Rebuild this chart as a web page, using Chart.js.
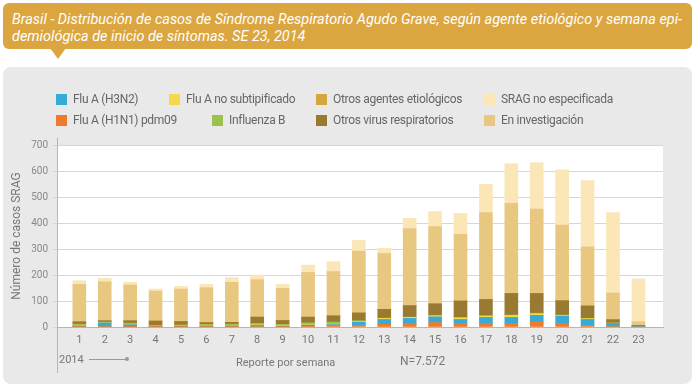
<!DOCTYPE html>
<html><head><meta charset="utf-8">
<script src="https://cdn.jsdelivr.net/npm/chart.js@4/dist/chart.umd.min.js"></script>
<style>
html,body{margin:0;padding:0;background:#fff;width:695px;height:387px;overflow:hidden;font-family:Roboto,"Open Sans",sans-serif;}
#banner{position:absolute;left:3px;top:3px;width:689px;height:46px;background:#dba540;border-radius:6px;}
#pointer{position:absolute;left:50px;top:48px;width:0;height:0;border-left:8px solid transparent;border-right:8px solid transparent;border-top:11px solid #dba540;}
.tl{position:absolute;left:12px;color:#fff;font-style:italic;font-size:14px;white-space:nowrap;transform-origin:0 0;}
#panel{position:absolute;left:3px;top:67px;width:689px;height:317px;background:#e9e9e9;border-radius:8px;}
#chart{position:absolute;left:0;top:0;}
.lg{position:absolute;font-size:12px;color:#666;white-space:nowrap;letter-spacing:-0.3px;}
.lg i{position:absolute;width:11px;height:11px;left:-17px;top:2px;}
.ft{position:absolute;color:#777;font-size:11px;white-space:nowrap;}
</style></head>
<body>
<div id="banner"></div><div id="pointer"></div>
<div class="tl" id="t1" style="top:11px">Brasil - Distribución de casos de Síndrome Respiratorio Agudo Grave, según agente etiológico y semana epi-</div>
<div class="tl" id="t2" style="top:28px">demiológica de inicio de síntomas. SE 23, 2014</div>
<div id="panel"></div>
<canvas id="chart" width="695" height="387"></canvas>
<div id="legend"></div>
<div class="ft" style="left:59px;top:353px;">2014</div>
<div style="position:absolute;left:89px;top:359px;width:38px;height:1px;background:#999;"></div>
<div style="position:absolute;left:125px;top:357px;width:4px;height:4px;border-radius:2px;background:#999;"></div>
<div class="ft" style="left:236px;top:356px;">Reporte por semana</div>
<div class="ft" style="left:400px;top:354px;font-size:12px;">N=7.572</div>
<script>
const weeks = [1,2,3,4,5,6,7,8,9,10,11,12,13,14,15,16,17,18,19,20,21,22,23];
const h1n1 =        [1,2,1,1,1,1,1,2,1,3,6,6,11,14,17,14,14,14,19,14,6,2,0];
const h3n2 =        [3,14,8,1,2,3,3,4,2,4,3,13,18,19,22,15,23,23,26,28,23,12,1];
const fluANoSub =   [1,1,1,1,1,1,1,2,2,2,2,3,4,4,4,6,5,7,6,3,3,1,0];
const fluB =        [6,2,5,3,4,5,6,6,5,7,8,2,1,1,1,1,1,2,2,1,1,0,0];
const otrosVirus =  [9,5,9,17,13,7,7,24,15,22,24,30,34,44,45,64,63,83,76,55,48,13,5];
const otrosAgentes =[0,0,0,0,0,0,0,0,0,0,0,0,0,0,0,0,0,0,0,0,0,0,0];
const enInvestigacion = [144,150,138,115,125,134,154,144,124,172,170,238,215,297,297,256,334,347,325,291,227,103,14];
const sragNoEsp =   [14,13,10,8,10,13,18,18,15,28,38,41,20,39,58,81,109,152,178,212,255,309,165];
const yTicks = [0,100,200,300,400,500,600,700];

const series = [
  {label:'Flu A (H1N1) pdm09', data:h1n1, color:'#ee7b2b'},
  {label:'Flu A (H3N2)', data:h3n2, color:'#37abd6'},
  {label:'Flu A no subtipificado', data:fluANoSub, color:'#f5d949'},
  {label:'Influenza B', data:fluB, color:'#9bc34c'},
  {label:'Otros virus respiratorios', data:otrosVirus, color:'#9a7a30'},
  {label:'Otros agentes etiológicos', data:otrosAgentes, color:'#d4a63e'},
  {label:'En investigación', data:enInvestigacion, color:'#e8c880'},
  {label:'SRAG no especificada', data:sragNoEsp, color:'#fbe6b8'}
];

// legend placement (style only)
const legendPos = {
  'Flu A (H3N2)':[73,92], 'Flu A no subtipificado':[186,92], 'Otros agentes etiológicos':[333,92], 'SRAG no especificada':[501,92],
  'Flu A (H1N1) pdm09':[73,113], 'Influenza B':[229,113], 'Otros virus respiratorios':[333,113], 'En investigación':[501,113]
};
const lg = document.getElementById('legend');
series.forEach(s=>{
  const p = legendPos[s.label];
  const d = document.createElement('div');
  d.className='lg'; d.style.left=p[0]+'px'; d.style.top=p[1]+'px';
  d.innerHTML = '<i style="background:'+s.color+'"></i>'+s.label;
  lg.appendChild(d);
});

// fit title lines
(function(){
  const t1=document.getElementById('t1'), t2=document.getElementById('t2');
  const sc = 670 / t1.getBoundingClientRect().width;
  t1.style.transform='scaleX('+sc+')'; t2.style.transform='scaleX('+sc+')';
})();

const plotBg = {
  id:'plotBg',
  beforeDraw(chart){
    const {ctx, chartArea:a} = chart;
    ctx.save(); ctx.fillStyle='#ffffff';
    ctx.fillRect(a.left, a.top, a.right-a.left, a.bottom-a.top);
    ctx.restore();
  },
  afterDraw(chart){
    const {ctx, chartArea:a} = chart;
    ctx.save(); ctx.strokeStyle='#b5b5b5'; ctx.lineWidth=1;
    ctx.beginPath(); ctx.moveTo(a.left+0.5, a.top-7); ctx.lineTo(a.left+0.5, a.bottom+46); ctx.stroke();
    ctx.restore();
  }
};

new Chart(document.getElementById('chart'), {
  type:'bar',
  data:{
    datasets: series.map(s=>({
      label:s.label,
      data: weeks.map((w,i)=>({x:w, y:s.data[i]})),
      backgroundColor:s.color,
      borderWidth:0,
      barThickness:13
    }))
  },
  options:{
    responsive:false,
    animation:false,
    layout:{padding:{top:145,right:32,left:0,bottom:0}},
    plugins:{legend:{display:false}, tooltip:{enabled:false}},
    scales:{
      x:{
        type:'linear', min:0.64, max:23.45, stacked:true,
        grid:{display:false, drawTicks:false},
        border:{display:true, color:'#b5b5b5'},
        afterBuildTicks(scale){ scale.ticks = weeks.map(v=>({value:v})); },
        afterFit(scale){ scale.height = 60; },
        ticks:{callback:(v)=>String(v), color:'#777', font:{family:'Roboto', size:11}, padding:7, maxRotation:0, autoSkip:false}
      },
      y:{
        min:0, max:700, stacked:true,
        afterBuildTicks(scale){ scale.ticks = yTicks.map(v=>({value:v})); },
        afterFit(scale){ scale.width = 57; },
        grid:{color:'#d6d6d6', tickLength:4, drawTicks:true},
        border:{display:false},
        ticks:{color:'#888', font:{family:'Roboto', size:10}, padding:5},
        title:{display:true, text:'Número de casos SRAG', color:'#777', font:{family:'Roboto', size:12}, padding:{top:10,bottom:0}}
      }
    }
  },
  plugins:[plotBg]
});
</script>
</body></html>
